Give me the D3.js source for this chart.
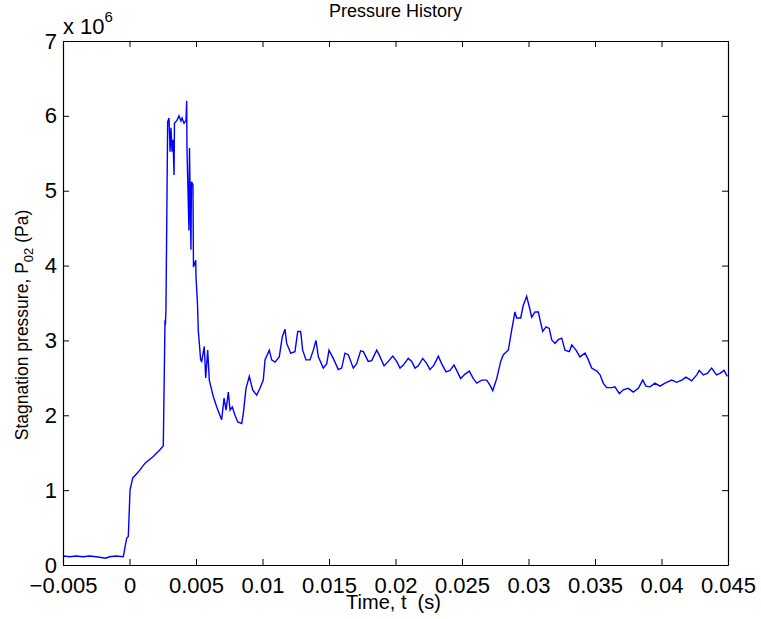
<!DOCTYPE html>
<html lang="en">
<head>
<meta charset="UTF-8">
<title>Pressure History</title>
<script src="https://d3js.org/d3.v7.min.js"></script>
<style>
  body { margin: 0; background: #fff; }
  svg { font-family: "Liberation Sans", Arial, Helvetica, sans-serif; }
  .axis path, .axis line { stroke: #000; }
</style>
</head>
<body>
<div id="chart"></div>
<script>
// time in ms, pressure in units of 10^6 Pa
var timeMs = [
  -5.0, -4.9, -4.5, -4.0, -3.5, -3.0, -2.5, -1.8, -1.5, -1.0, -0.47,
  -0.21, -0.09, 0.04, 0.24, 0.79, 1.17, 1.79, 2.29, 2.54, 2.67, 2.70, 2.74,
  2.87, 2.97, 3.05, 3.12, 3.20, 3.27, 3.35, 3.38, 3.57, 3.72, 3.87, 3.95, 4.10, 4.25,
  4.30, 4.32, 4.47, 4.51, 4.62, 4.66, 4.77, 4.81, 4.98, 5.00, 5.11, 5.17, 5.35, 5.43,
  5.62, 5.73, 5.88, 6.00, 6.30, 6.56, 6.93, 7.11, 7.26, 7.43, 7.56, 7.73, 7.93, 8.14,
  8.44, 8.56, 8.76, 9.01, 9.26, 9.56, 9.81, 10.06, 10.19, 10.51, 10.69, 10.94, 11.26,
  11.49, 11.69, 11.82, 12.12, 12.44, 12.65, 12.87, 13.02, 13.27, 13.57, 13.82, 14.02,
  14.20, 14.57, 14.83, 15.00, 15.32, 15.70, 15.95, 16.20, 16.45, 16.83, 17.08, 17.38,
  17.58, 17.95, 18.21, 18.59, 18.76, 19.14, 19.46, 19.79, 20.09, 20.34, 20.59, 20.96,
  21.22, 21.47, 21.71, 22.05, 22.35, 22.59, 22.89, 23.22, 23.47, 23.80, 24.10, 24.40,
  24.60, 24.90, 25.23, 25.55, 25.85, 26.11, 26.48, 26.86, 27.11, 27.31, 27.61, 27.91,
  28.11, 28.48, 28.74, 28.98, 29.11, 29.41, 29.61, 29.86, 30.06, 30.24, 30.49, 30.74,
  30.86, 31.07, 31.32, 31.56, 31.74, 31.99, 32.24, 32.50, 32.74, 33.07, 33.25, 33.57,
  33.87, 34.25, 34.50, 34.75, 35.13, 35.38, 35.62, 35.88, 36.26, 36.50, 36.83, 37.13,
  37.50, 37.88, 38.26, 38.59, 38.83, 39.14, 39.51, 39.89, 40.26, 40.77, 41.14, 41.52,
  41.84, 42.27, 42.65, 42.84, 43.14, 43.44, 43.77, 44.14, 44.40, 44.70, 44.95
];
var pressure = [
  0.10, 0.12, 0.11, 0.12, 0.11, 0.12, 0.11, 0.09, 0.11, 0.12, 0.11,
  0.36, 0.38, 1.00, 1.16, 1.27, 1.36, 1.45, 1.54, 1.59, 3.27, 3.21, 3.41,
  5.92, 5.97, 5.52, 5.84, 5.52, 5.68, 5.21, 5.90, 5.94, 6.00, 5.93, 5.97, 5.90, 5.94,
  6.20, 5.57, 4.47, 5.57, 4.21, 5.12, 5.08, 3.98, 4.07, 3.85, 3.50, 3.14, 2.74, 2.72,
  2.92, 2.50, 2.87, 2.47, 2.25, 2.11, 1.94, 2.23, 2.07, 2.31, 2.07, 2.11, 2.00, 1.91,
  1.89, 2.03, 2.36, 2.52, 2.34, 2.27, 2.36, 2.47, 2.74, 2.87, 2.74, 2.71, 2.78,
  3.05, 3.15, 2.96, 2.83, 2.85, 3.12, 3.12, 2.87, 2.74, 2.74, 2.87, 3.00,
  2.78, 2.63, 2.69, 2.87, 2.76, 2.61, 2.63, 2.83, 2.81, 2.63, 2.69, 2.86,
  2.85, 2.72, 2.73, 2.87, 2.81, 2.66, 2.72, 2.79, 2.72, 2.63, 2.67, 2.76,
  2.72, 2.63, 2.66, 2.76, 2.69, 2.61, 2.67, 2.79, 2.69, 2.58, 2.60, 2.67,
  2.60, 2.49, 2.55, 2.59, 2.49, 2.43, 2.47, 2.47, 2.40, 2.33, 2.49, 2.72,
  2.81, 2.87, 3.14, 3.38, 3.30, 3.30, 3.47, 3.59, 3.45, 3.31, 3.38, 3.38,
  3.28, 3.12, 3.18, 3.16, 3.01, 2.96, 3.01, 3.03, 2.87, 2.85, 2.94, 2.87,
  2.78, 2.83, 2.74, 2.63, 2.59, 2.54, 2.43, 2.37, 2.37, 2.38, 2.29, 2.34,
  2.36, 2.31, 2.36, 2.47, 2.39, 2.38, 2.43, 2.39, 2.43, 2.47, 2.44, 2.47,
  2.51, 2.46, 2.54, 2.60, 2.54, 2.56, 2.63, 2.54, 2.56, 2.60, 2.52
];
var xTicks = [-5, 0, 5, 10, 15, 20, 25, 30, 35, 40, 45];
var yTicks = [0, 1, 2, 3, 4, 5, 6, 7];

var width = 761, height = 619;
var margin = {top: 41, right: 33, bottom: 54, left: 63};
var innerW = width - margin.left - margin.right;
var innerH = height - margin.top - margin.bottom;

var svg = d3.select("#chart").append("svg")
    .attr("width", width)
    .attr("height", height);

var g = svg.append("g")
    .attr("transform", "translate(" + margin.left + "," + margin.top + ")");

var x = d3.scaleLinear().domain([-5, 45]).range([0, innerW]);
var y = d3.scaleLinear().domain([0, 7]).range([innerH, 0]);

function fmtTime(d) {
    var v = d / 1000;
    return (v < 0 ? "\u2212" : "") + Math.abs(v);
}

// axes, ticks pointing inward on all four sides
g.append("g")
    .attr("class", "axis")
    .attr("transform", "translate(0," + innerH + ")")
    .call(d3.axisBottom(x).tickValues(xTicks).tickFormat(fmtTime)
        .tickSizeInner(-6).tickSizeOuter(0).tickPadding(12))
    .call(s => s.selectAll("text").attr("fill", "#000").style("font-size", "22px"));

g.append("g")
    .attr("class", "axis")
    .call(d3.axisTop(x).tickValues(xTicks).tickFormat("")
        .tickSizeInner(-6).tickSizeOuter(0));

g.append("g")
    .attr("class", "axis")
    .call(d3.axisLeft(y).tickValues(yTicks).tickFormat(d => d)
        .tickSizeInner(-6).tickSizeOuter(0).tickPadding(6))
    .call(s => s.selectAll("text").attr("fill", "#000").style("font-size", "22px"));

g.append("g")
    .attr("class", "axis")
    .attr("transform", "translate(" + innerW + ",0)")
    .call(d3.axisRight(y).tickValues(yTicks).tickFormat("")
        .tickSizeInner(-6).tickSizeOuter(0));

g.selectAll(".axis path").attr("stroke-width", 1.2);

// the pressure trace
var points = timeMs.map((t, i) => [t, pressure[i]]);
var line = d3.line()
    .x(d => x(d[0]))
    .y(d => y(d[1]));

g.append("path")
    .datum(points)
    .attr("fill", "none")
    .attr("stroke", "#0000ff")
    .attr("stroke-width", 1.4)
    .attr("d", line);

// exponent label
var expo = svg.append("text")
    .attr("x", margin.left)
    .attr("y", 34)
    .attr("fill", "#000")
    .style("font-size", "22px");
expo.append("tspan").text("x 10");
expo.append("tspan").attr("dy", -12).style("font-size", "15px").text("6");

// title
svg.append("text")
    .attr("x", margin.left + innerW / 2)
    .attr("y", 17)
    .attr("text-anchor", "middle")
    .attr("fill", "#000")
    .style("font-size", "18px")
    .text("Pressure History");

// x label
svg.append("text")
    .attr("x", margin.left + innerW / 2 - 2)
    .attr("y", 609)
    .attr("text-anchor", "middle")
    .attr("fill", "#000")
    .style("font-size", "20px")
    .text("Time, t\u00a0\u00a0(s)");

// y label with subscript
var ylab = svg.append("text")
    .attr("transform", "translate(28,325) rotate(-90)")
    .attr("text-anchor", "middle")
    .attr("fill", "#000")
    .style("font-size", "17.5px");
ylab.append("tspan").text("Stagnation pressure, P");
ylab.append("tspan").attr("dy", 5).style("font-size", "13px").text("02");
ylab.append("tspan").attr("dy", -5).text(" (Pa)");
</script>
</body>
</html>
